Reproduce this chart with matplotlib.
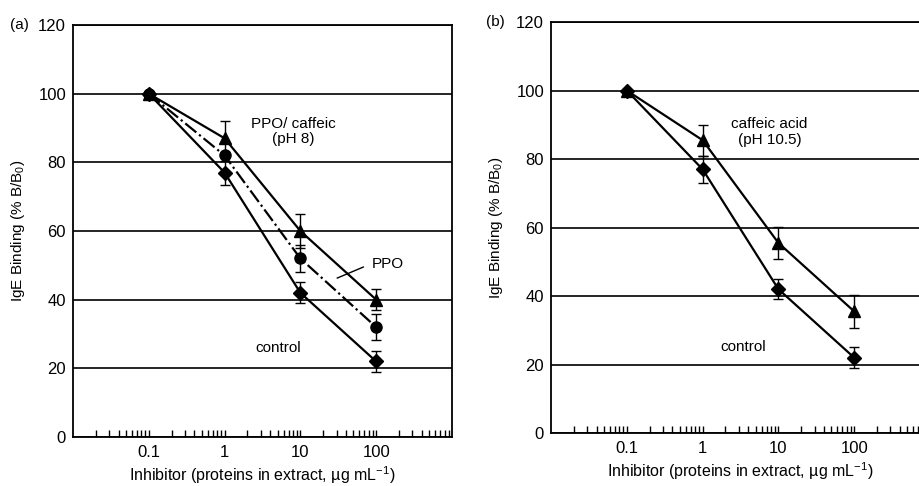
import numpy as np
import matplotlib as mpl
mpl.use("Agg")
import matplotlib.pyplot as plt
from matplotlib.ticker import LogLocator, NullFormatter, FixedLocator, FixedFormatter

mpl.rcParams['font.family'] = ["Liberation Sans", "DejaVu Sans"]

# ---- data ----
conc = [0.1, 1, 10, 100]
tick_labels = ["0.1", "1", "10", "100"]

# panel (a)
ctrl_a = [100, 77, 42, 22]
ctrl_a_err = [0, 3.5, 3, 3]
ppo_a = [100, 82, 52, 32]
ppo_a_err = [0, 0, 4, 3.7]
ppocaf_a = [100, 87, 60, 40]
ppocaf_a_err = [0, 5, 5, 3]

# panel (b)
ctrl_b = [100, 77, 42, 22]
ctrl_b_err = [0, 4, 3, 3]
caf_b = [100, 85.5, 55.5, 35.5]
caf_b_err = [0, 4.5, 4.7, 4.8]

fig = plt.figure(figsize=(9.2, 4.86), dpi=100)
axA = fig.add_axes([0.0793, 0.1008, 0.412, 0.8478])
axB = fig.add_axes([0.5989, 0.109, 0.412, 0.8457])

def style(ax):
    ax.set_xscale('log')
    ax.set_xlim(0.01, 1000)
    ax.set_ylim(0, 120)
    ax.set_yticks([0, 20, 40, 60, 80, 100, 120])
    ax.yaxis.grid(True, color='black', linewidth=1.2)
    ax.set_axisbelow(True)
    ax.xaxis.set_major_locator(FixedLocator(conc))
    ax.xaxis.set_major_formatter(FixedFormatter(tick_labels))
    ax.xaxis.set_minor_locator(LogLocator(base=10, subs=np.arange(2, 10), numticks=20))
    ax.xaxis.set_minor_formatter(NullFormatter())
    ax.tick_params(axis='x', which='both', direction='in', length=5, width=1, labelsize=12, pad=6)
    ax.tick_params(axis='y', length=0, labelsize=12, pad=5)
    for s in ax.spines.values():
        s.set_linewidth(1.3)
    ax.set_ylabel("IgE Binding (% B/B$_\\mathregular{0}$)", fontsize=11)
    ax.set_xlabel("Inhibitor (proteins in extract, \u00b5g mL$^{\\mathregular{-1}}$)", fontsize=11.5, labelpad=3)
    ax.yaxis.set_label_coords(-0.121, 0.5)

def series(ax, y, err, marker, ls='-', ms=8):
    ax.errorbar(conc, y, yerr=err, color='black', marker=marker, ms=ms, linestyle=ls,
                linewidth=1.6, elinewidth=1, capsize=3.5, capthick=1)

style(axA)
series(axA, ctrl_a, ctrl_a_err, 'D', ms=7)
series(axA, ppo_a, ppo_a_err, 'o', ls='-.')
series(axA, ppocaf_a, ppocaf_a_err, '^', ms=8.5)
axA.text(8.1, 89, "PPO/ caffeic\n(pH 8)", ha='center', va='center', fontsize=11, linespacing=1.1)
axA.text(144, 50.4, "PPO", ha='center', va='center', fontsize=11)
axA.plot([30.7, 67.6], [46.3, 49.5], color='black', linewidth=1)
axA.text(5.1, 25.9, "control", ha='center', va='center', fontsize=11)
fig.text(0.011, 0.9486, "(a)", fontsize=11, va='center')

style(axB)
series(axB, ctrl_b, ctrl_b_err, 'D', ms=7)
series(axB, caf_b, caf_b_err, '^', ms=8.5)
axB.text(7.6, 87.9, "caffeic acid\n(pH 10.5)", ha='center', va='center', fontsize=11, linespacing=1.1)
axB.text(3.4, 25.1, "control", ha='center', va='center', fontsize=11)
fig.text(0.528, 0.9547, "(b)", fontsize=11, va='center')

fig.savefig("out.png", dpi=100)
